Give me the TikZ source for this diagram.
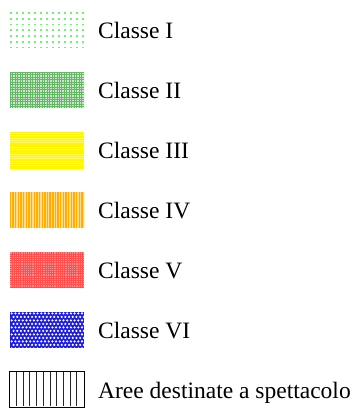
\documentclass[tikz,border=0pt]{standalone}
\usepackage{fontspec}
\setmainfont{Liberation Serif}
\definecolor{cI}{RGB}{110,245,110}
\definecolor{cII}{RGB}{50,160,50}
\definecolor{cIII}{RGB}{255,245,0}
\definecolor{cIV}{RGB}{255,175,0}
\definecolor{cV}{RGB}{255,80,80}
\definecolor{cVI}{RGB}{30,30,215}
\begin{document}
\begin{tikzpicture}[x=1bp,y=-1bp,
  lbl/.style={anchor=base west, inner sep=0pt, font=\fontsize{23.5bp}{28bp}\selectfont},
  swatch/.style={rectangle, inner sep=0pt, minimum width=74bp, minimum height=36bp}]
\useasboundingbox (0,0) rectangle (359,408);
% swatch nodes
\node[swatch] (b1) at (47,30) {};
\node[swatch] (b2) at (47,90) {};
\node[swatch] (b3) at (47,150) {};
\node[swatch] (b4) at (47,210) {};
\node[swatch] (b5) at (47,270) {};
\node[swatch] (b6) at (47,330) {};
\node[swatch] (b7) at (47,389.5) {};
% Classe I: dots
\begin{scope}
\clip (b1.south west) rectangle (b1.north east);
\begin{scope}[shift={(b1.north west)}]
\foreach \i in {0,...,12}{\foreach \j in {0,...,6}{
  \fill[cI] (\i*6+0.5,\j*5.7+0.5) rectangle ++(1.7,1.7);}}
\end{scope}
\end{scope}
% Classe II: fine grid
\fill[cII!25] (b2.south west) rectangle (b2.north east);
\begin{scope}
\clip (b2.south west) rectangle (b2.north east);
\begin{scope}[shift={(b2.north west)}]
\foreach \i in {0,...,30}{\draw[cII!75, line width=0.6bp] (\i*2.45+0.5,0) -- ++(0,36);}
\foreach \j in {0,...,15}{\draw[cII!75, line width=0.6bp] (0,\j*2.45+0.5) -- ++(74,0);}
\end{scope}
\end{scope}
% Classe III: yellow horizontal lines
\fill[cIII!65] (b3.south west) rectangle (b3.north east);
\begin{scope}
\clip (b3.south west) rectangle (b3.north east);
\begin{scope}[shift={(b3.north west)}]
\foreach \j in {0,...,16}{\draw[cIII, line width=1.5bp] (0,\j*2.3+0.6) -- ++(74,0);}
\end{scope}
\end{scope}
% Classe IV: orange vertical lines
\fill[cIV!45] (b4.south west) rectangle (b4.north east);
\begin{scope}
\clip (b4.south west) rectangle (b4.north east);
\begin{scope}[shift={(b4.north west)}]
\foreach \i in {0,...,28}{\draw[cIV, line width=1.4bp] (\i*2.65+0.6,0) -- ++(0,36);}
\end{scope}
\end{scope}
% Classe V: red fine check
\fill[cV] (b5.south west) rectangle (b5.north east);
\begin{scope}
\clip (b5.south west) rectangle (b5.north east);
\begin{scope}[shift={(b5.north west)}]
\foreach \i in {0,...,33}{\foreach \j in {0,...,16}{
  \fill[white, opacity=0.35] (\i*2.2+0.6,\j*2.2+0.6) rectangle ++(1.1,1.1);}}
\end{scope}
\end{scope}
% Classe VI: blue with white holes
\fill[cVI] (b6.south west) rectangle (b6.north east);
\begin{scope}
\clip (b6.south west) rectangle (b6.north east);
\begin{scope}[shift={(b6.north west)}]
\foreach \j in {0,...,10}{\foreach \i in {0,...,20}{
  \pgfmathsetmacro{\xx}{\i*3.7+1.9+mod(\j,2)*1.85}
  \fill[white] (\xx,\j*3.5+1.6) circle (1.2);}}
\end{scope}
\end{scope}
% Aree destinate a spettacolo: black vertical lines
\begin{scope}
\clip (b7.south west) rectangle (b7.north east);
\begin{scope}[shift={(b7.north west)}]
\foreach \i in {1,...,10}{\draw[black!85, line width=0.9bp] (\i*6.7,0) -- ++(0,35);}
\end{scope}
\end{scope}
\draw[black, line width=1bp] (b7.south west) rectangle (b7.north east);
% labels
\node[lbl] (t1) at (98,38) {Classe I};
\node[lbl] (t2) at (98,98) {Classe II};
\node[lbl] (t3) at (98,158) {Classe III};
\node[lbl] (t4) at (98,218) {Classe IV};
\node[lbl] (t5) at (98,278) {Classe V};
\node[lbl] (t6) at (98,338) {Classe VI};
\node[lbl] (t7) at (98,398) {Aree destinate a spettacolo};
\end{tikzpicture}
\end{document}
